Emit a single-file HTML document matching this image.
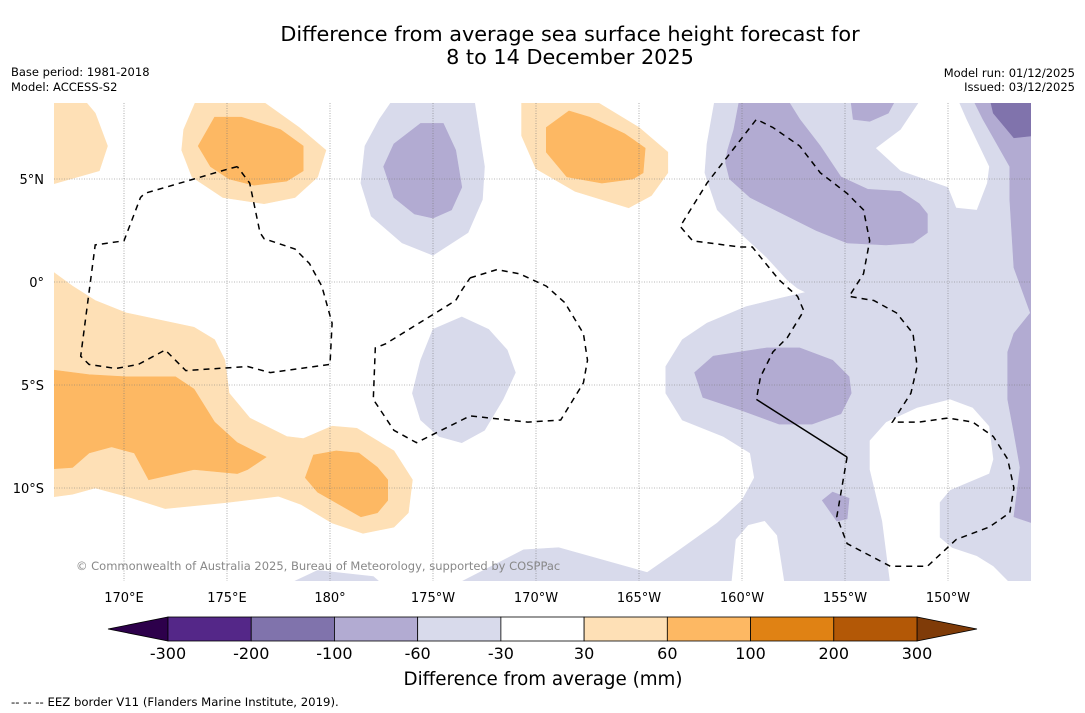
<!DOCTYPE html>
<html><head><meta charset="utf-8">
<style>
html,body{margin:0;padding:0;background:#fff;}
svg{display:block;font-family:"DejaVu Sans","Liberation Sans",sans-serif;}
</style></head>
<body>
<svg id="chart" width="1085" height="713" viewBox="0 0 1085 713">
  <text x="570" y="41" text-anchor="middle" font-size="20.8" fill="#000">Difference from average sea surface height forecast for</text>
  <text x="570" y="64" text-anchor="middle" font-size="20.8" fill="#000">8 to 14 December 2025</text>
  <text x="11" y="76" font-size="11.5">Base period: 1981-2018</text>
  <text x="11" y="91" font-size="11.5">Model: ACCESS-S2</text>
  <text x="1075" y="77" font-size="11.5" text-anchor="end">Model run: 01/12/2025</text>
  <text x="1075" y="91" font-size="11.5" text-anchor="end">Issued: 03/12/2025</text>
  <defs><clipPath id="mapclip"><rect x="54" y="103" width="977" height="478"/></clipPath></defs>
  <g id="map" clip-path="url(#mapclip)"></g>
  <g id="axes"></g>
  <g id="cbar"></g>
  <text x="543" y="685" text-anchor="middle" font-size="18.3">Difference from average (mm)</text>
  <text x="11" y="706" font-size="11.7">--  --  -- EEZ border V11 (Flanders Marine Institute, 2019).</text>
</svg>
<script>
// ---- data ----
const lonTicks = [170, 175, 180, 185, 190, 195, 200, 205, 210];
const lonTickLabels = ["170°E","175°E","180°","175°W","170°W","165°W","160°W","155°W","150°W"];
const latTicks = [5, 0, -5, -10];
const latTickLabels = ["5°N","0°","5°S","10°S"];
const cbarLevels = [-300,-200,-100,-60,-30,30,60,100,200,300];
const cbarColors = ["#542788","#8073ac","#b2abd2","#d8daeb","#ffffff","#fee0b6","#fdb863","#e08214","#b35806"];
const cbarExtendColors = ["#2d004b","#7f3b08"];
// contour regions [lon, lat]
const lightPurple = [
 [[185.5,-15],[189.4,-13.0],[191.1,-12.9],[195.4,-14.1],[196.7,-13.2],[198.8,-11.7],[200.0,-10.6],[200.6,-9.5],[200.4,-8.3],[199.1,-7.5],[197.1,-6.7],[196.3,-5.4],[196.3,-4.1],[197.1,-2.8],[198.3,-2.0],[200.2,-1.2],[201.8,-0.8],[203.1,-0.5],[202.7,-0.3],[202.2,0.1],[201.2,1.2],[199.9,2.4],[198.8,3.5],[198.2,5.3],[198.3,6.7],[198.8,9.5],[215,9.5],[215,-15.5],[185.5,-15.5]],
 [[181.5,4.8],[181.7,6.6],[182.4,7.9],[183.5,9.5],[186.9,9.5],[187.5,5.6],[187.4,4.0],[186.7,2.4],[185.0,1.3],[183.5,1.9],[182.0,3.2]],
 [[184.0,-5.4],[184.4,-3.8],[185.0,-2.3],[186.4,-1.7],[187.7,-2.3],[188.6,-3.3],[189.0,-4.4],[188.4,-5.7],[187.5,-7.2],[186.4,-7.8],[185.3,-7.5],[184.4,-6.7]],
 [[177.5,-15.5],[177.7,-14.8],[179.4,-14.0],[182.1,-14.3],[183.5,-15.5]]
];
const whiteHoles = [
 [[206.5,6.5],[207.7,7.4],[209.1,9.5],[210.2,9.5],[210.9,7.9],[212.0,5.6],[211.9,4.8],[211.4,3.5],[210.4,3.6],[210.0,4.6],[207.7,5.4]],
 [[206.2,-7.7],[207.0,-6.8],[208.5,-6.1],[210.1,-5.7],[211.2,-6.1],[212.0,-7.0],[212.2,-8.6],[212.0,-9.3],[210.1,-10.1],[209.6,-10.7],[209.6,-12.4],[210.2,-12.9],[211.4,-13.3],[212.2,-13.8],[212.9,-14.5],[213.2,-15.5],[207.3,-15.5],[206.8,-11.6],[206.2,-9.1]],
 [[199.4,-15.5],[199.7,-12.5],[200.3,-11.8],[201.1,-11.6],[201.7,-12.3],[202.2,-15.5]]
];
const mediumPurple = [
 [[200.0,9.5],[201.8,9.5],[202.8,7.9],[203.8,6.6],[204.8,5.1],[206.1,4.5],[207.7,4.4],[208.6,3.8],[209.0,3.3],[209.0,2.4],[208.3,1.9],[207.0,1.8],[205.1,1.9],[203.6,2.5],[202.0,3.3],[200.4,4.1],[199.4,5.0],[199.2,5.8],[199.3,6.4],[199.6,7.4]],
 [[205.2,9.5],[207.8,9.5],[207.1,8.2],[206.2,7.8],[205.4,7.9]],
 [[210.9,9.5],[211.7,7.9],[213.0,5.6],[213.0,4.0],[213.2,0.7],[214.0,-1.5],[213.2,-2.5],[212.9,-3.4],[212.9,-5.7],[213.2,-7.3],[213.5,-9.0],[213.2,-11.4],[215,-12],[215,9.5]],
 [[197.7,-4.4],[198.6,-3.6],[201.2,-3.2],[202.8,-3.2],[204.4,-3.8],[205.2,-4.6],[205.3,-5.4],[204.8,-6.4],[203.4,-6.9],[201.8,-6.9],[199.9,-6.2],[198.1,-5.6]],
 [[203.9,-10.6],[204.4,-10.2],[205.2,-10.5],[205.1,-11.5],[204.6,-11.6]],
 [[182.6,5.6],[183.1,6.7],[184.4,7.7],[185.5,7.7],[186.1,6.4],[186.4,4.6],[185.9,3.5],[185.0,3.1],[184.1,3.3],[183.1,4.1]]
];
const darkPurple = [
 [[211.9,9.5],[212.2,8.2],[213.2,7.0],[215,7.2],[215,9.5]]
];
const lightOrange = [
 [[166,9.5],[167.5,9.5],[168.6,8.2],[169.2,6.6],[168.8,5.4],[166,4.6]],
 [[172.9,7.4],[173.8,9.5],[175.7,9.5],[178.5,7.5],[179.8,6.4],[179.4,5.1],[178.3,4.1],[176.8,3.8],[174.8,4.1],[173.3,5.1],[172.8,6.4]],
 [[189.3,9.5],[191.7,9.5],[195.0,7.5],[196.4,6.3],[196.4,5.3],[195.6,4.2],[194.5,3.6],[191.9,4.4],[190.0,5.5],[189.3,7.1]],
 [[166,0.9],[167.5,-0.2],[168.6,-0.9],[170.1,-1.5],[173.4,-2.2],[174.4,-2.8],[174.9,-3.8],[175.1,-5.4],[176.1,-6.6],[177.9,-7.5],[178.7,-7.6],[180.1,-7.0],[181.3,-7.1],[183.1,-8.2],[184.0,-9.6],[183.8,-11.2],[183.1,-11.9],[181.6,-12.2],[180.1,-11.7],[178.6,-10.8],[177.5,-10.4],[175.0,-10.7],[172.0,-11.0],[170.1,-10.4],[168.6,-10.0],[167.5,-10.3],[166,-10.5]]
];
const mediumOrange = [
 [[173.6,6.6],[174.4,8.0],[175.7,8.0],[177.6,7.4],[178.7,6.6],[178.7,5.4],[177.9,4.9],[176.3,4.7],[175.1,5.0],[174.2,5.6]],
 [[190.5,7.5],[191.6,8.3],[192.6,8.0],[194.3,7.2],[195.3,6.5],[195.2,5.3],[194.7,5.0],[193.2,4.8],[191.5,5.1],[190.5,6.3]],
 [[166,-4.2],[168.3,-4.5],[170.1,-4.6],[172.5,-4.6],[173.4,-5.2],[174.4,-6.8],[175.5,-7.8],[176.9,-8.5],[176.0,-9.1],[175.5,-9.3],[173.4,-9.1],[171.2,-9.6],[170.5,-8.3],[169.4,-8.0],[168.3,-8.3],[167.5,-9.0],[166,-9.1]],
 [[178.8,-9.5],[179.2,-8.4],[180.3,-8.2],[181.4,-8.3],[182.3,-9.0],[182.8,-9.6],[182.8,-10.6],[182.3,-11.2],[181.5,-11.4],[179.4,-10.2]]
];
const eezLoops = [
 [[175.5,5.6],[175.1,5.5],[173.4,5.0],[171.0,4.3],[170.8,4.1],[170.0,2.0],[168.6,1.8],[167.9,-3.6],[168.3,-4.0],[169.6,-4.2],[170.7,-4.0],[172.0,-3.3],[173.0,-4.3],[176.0,-4.1],[177.1,-4.4],[180.0,-4.0],[180.1,-2.0],[179.6,-0.2],[179.0,0.9],[178.3,1.6],[176.8,2.1],[176.6,2.4],[176.1,4.8],[175.5,5.6]],
 [[186.8,0.2],[188.1,0.6],[189.2,0.4],[190.5,-0.2],[191.4,-1.0],[192.3,-2.5],[192.5,-3.8],[192.3,-4.9],[191.2,-6.7],[189.6,-6.8],[186.8,-6.5],[184.8,-7.5],[184.2,-7.8],[183.1,-7.2],[182.1,-5.7],[182.2,-3.2],[182.7,-3.0],[186.1,-0.9],[186.4,-0.4],[186.8,0.2]],
 [[205.1,-8.5],[204.6,-11.4],[205.1,-12.7],[207.2,-13.8],[209.0,-13.8],[210.4,-12.5],[212.0,-11.9],[213.0,-11.2],[213.2,-10.0],[212.9,-8.6],[212.2,-7.5],[211.2,-6.8],[210.0,-6.6],[208.6,-6.8],[207.3,-6.8],[208.2,-5.4],[208.5,-4.1],[208.3,-2.5],[207.5,-1.5],[206.4,-0.9],[205.2,-0.7],[205.9,0.4],[206.2,2.0],[205.9,3.5],[205.1,4.3],[203.8,5.3],[202.8,6.6],[201.5,7.5],[200.7,7.9],[198.3,4.8],[197.0,2.7],[197.6,2.0],[199.9,1.7],[200.5,1.7],[201.8,0.1],[202.7,-0.7],[203.0,-1.4],[202.2,-2.7],[201.5,-3.4],[200.9,-4.6],[200.7,-5.7]]
];
const eezSolid = [[200.7,-5.7],[205.1,-8.5]];

// ---- axis functions ----
const NS = "http://www.w3.org/2000/svg";
function xOf(lon){ return 124 + (lon - 170) * 20.6; }
function yOf(lat){ return 282 - lat * 20.6; }
function pts(arr){ return arr.map(p => xOf(p[0]).toFixed(1) + "," + yOf(p[1]).toFixed(1)).join(" "); }
function mk(tag, attrs, parent){
  const e = document.createElementNS(NS, tag);
  for (const k in attrs) e.setAttribute(k, attrs[k]);
  parent.appendChild(e);
  return e;
}
const map = document.getElementById("map");
const axes = document.getElementById("axes");
const cbar = document.getElementById("cbar");

function drawLayer(list, fill, name){
  list.forEach(poly => {
    const p = mk("polygon", {points: pts(poly), fill: fill, stroke: fill === "#ffffff" ? "none" : fill, "stroke-width": 0.6}, map);
    
    
  });
}
drawLayer(lightPurple, "#d8daeb", "contour-minus30-to-minus60");
drawLayer(whiteHoles, "#ffffff", "contour-neutral");
drawLayer(mediumPurple, "#b2abd2", "contour-minus60-to-minus100");
drawLayer(darkPurple, "#8073ac", "contour-minus100-to-minus200");
drawLayer(lightOrange, "#fee0b6", "contour-30-to-60");
drawLayer(mediumOrange, "#fdb863", "contour-60-to-100");

// gridlines
lonTicks.forEach((lon, i) => {
  const l = mk("line", {x1: xOf(lon), x2: xOf(lon), y1: 103, y2: 581, stroke: "#777", "stroke-width": 0.6, "stroke-dasharray": "1,1.5"}, axes);
  
  
  const t = mk("text", {x: xOf(lon), y: 602, "text-anchor": "middle", "font-size": 13}, axes);
  t.textContent = lonTickLabels[i];
  
  
});
latTicks.forEach((lat, i) => {
  const l = mk("line", {x1: 54, x2: 1031, y1: yOf(lat), y2: yOf(lat), stroke: "#777", "stroke-width": 0.6, "stroke-dasharray": "1,1.5"}, axes);
  
  
  const t = mk("text", {x: 44, y: yOf(lat) + 5, "text-anchor": "end", "font-size": 13}, axes);
  t.textContent = latTickLabels[i];
  
  
});

// EEZ borders
eezLoops.forEach(loop => {
  const pl = mk("polyline", {points: pts(loop), fill: "none", stroke: "#000", "stroke-width": 1.5, "stroke-dasharray": "6,5"}, axes);
  
  
});
const sl = mk("polyline", {points: pts(eezSolid), fill: "none", stroke: "#000", "stroke-width": 1.5}, axes);



const cr = mk("text", {x: 76, y: 570, "font-size": 11.5, fill: "#888"}, axes);
cr.textContent = "© Commonwealth of Australia 2025, Bureau of Meteorology, supported by COSPPac";



// colorbar
const cx0 = 168, cx1 = 917, cy0 = 617, cy1 = 641, cw = (cx1 - cx0) / cbarColors.length;
function cbX(i){ return cx0 + i * cw; }
const le = mk("polygon", {points: `108,${(cy0+cy1)/2} ${cx0},${cy0} ${cx0},${cy1}`, fill: cbarExtendColors[0], stroke: "#000", "stroke-width": 0.8}, cbar);


const re = mk("polygon", {points: `977,${(cy0+cy1)/2} ${cx1},${cy0} ${cx1},${cy1}`, fill: cbarExtendColors[1], stroke: "#000", "stroke-width": 0.8}, cbar);


cbarColors.forEach((c, i) => {
  const r = mk("rect", {x: cbX(i), y: cy0, width: cw, height: cy1 - cy0, fill: c, stroke: "#000", "stroke-width": 0.8}, cbar);
  
  
});
cbarLevels.forEach((v, i) => {
  const t = mk("text", {x: cbX(i), y: 659, "text-anchor": "middle", "font-size": 16}, cbar);
  t.textContent = v;
  
  
});
</script>
</body></html>
